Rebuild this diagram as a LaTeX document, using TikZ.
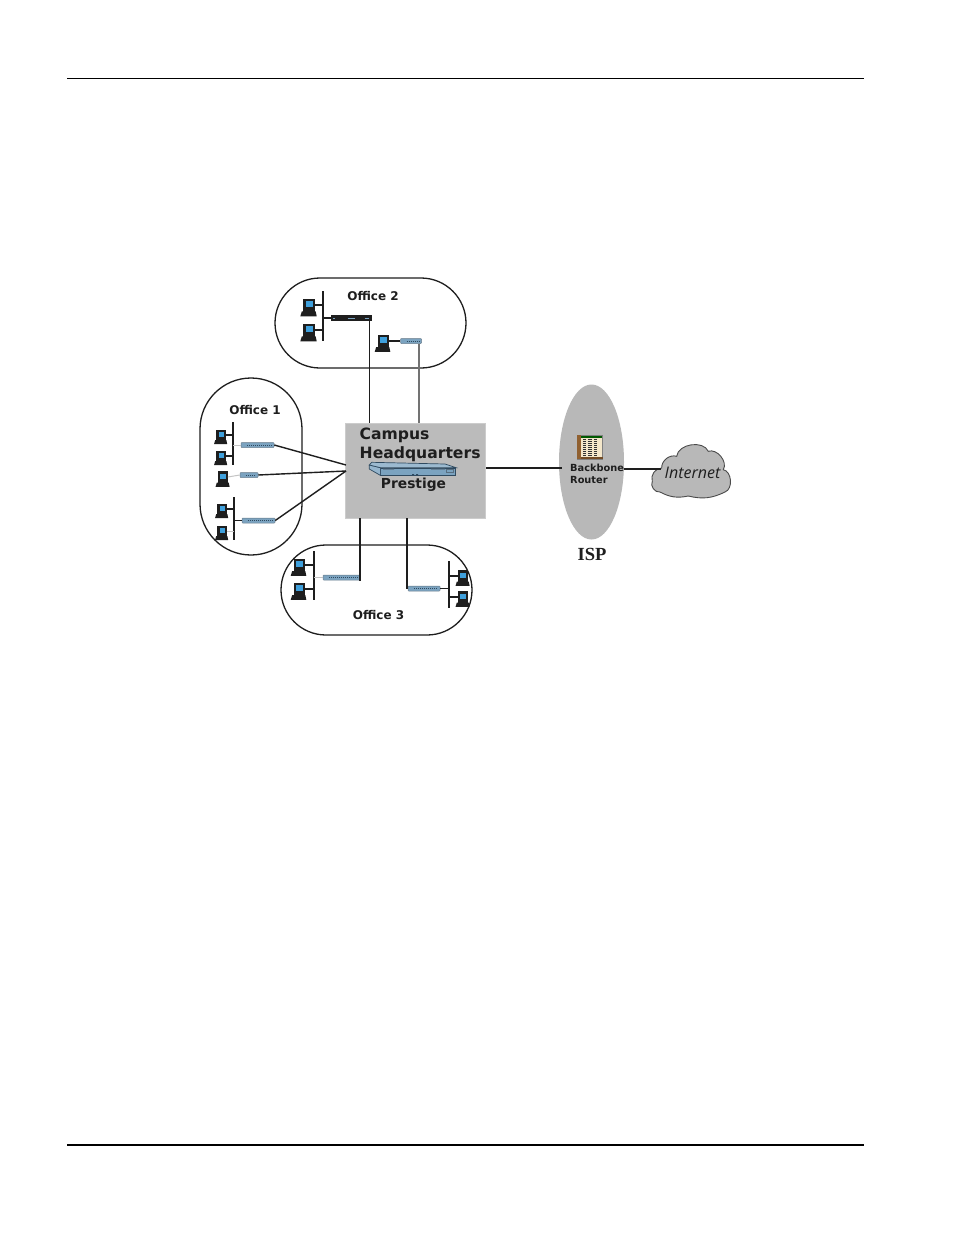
\documentclass[tikz,border=0pt]{standalone}
\usepackage{fontspec}
\setmainfont{DejaVu Sans}
\newfontfamily\isofont{Liberation Serif}
\newfontfamily\netfont{Open Sans}
\usetikzlibrary{shapes.geometric,calc}
\definecolor{panel}{HTML}{BBBBBB}
\definecolor{isp}{HTML}{B8B8B8}
\definecolor{hubblue}{HTML}{7BA3C0}
\definecolor{hubdark}{HTML}{2F4A60}
\definecolor{screen}{HTML}{3FA0DC}
\definecolor{ink}{HTML}{1E1E1E}
\definecolor{stub}{HTML}{C4C4C4}
\tikzset{
  office/.style={draw=ink,line width=1.3pt,fill=white},
  wire/.style={draw=ink,line width=1.4pt},
  greywire/.style={draw=black!55,line width=2pt},
  lightwire/.style={draw=stub,line width=1pt},
  busbar/.style={draw=ink,line width=1.4pt},
  rule/.style={draw=black,line width=1pt},
  label/.style={font=\bfseries\fontsize{12}{14}\selectfont,text=ink,inner sep=0pt},
  hq/.style={font=\bfseries\fontsize{15.6}{18}\selectfont,text=ink,inner sep=0pt},
  hubbox/.style={rectangle,fill=hubblue,draw=hubdark!70,line width=.5pt,inner sep=0pt,rounded corners=.8pt,
    path picture={
      \fill[hubdark!80] (path picture bounding box.north west) rectangle
        ($(path picture bounding box.north east)+(0,-1)$);
      \draw[hubdark,line width=.7pt,dash pattern=on 1pt off 1pt]
        ($(path picture bounding box.west)+(6,.3)$) -- ($(path picture bounding box.east)+(-2,.3)$);}},
  darkhub/.style={rectangle,fill=ink,draw=ink,line width=.5pt,inner sep=0pt,
    path picture={
      \draw[hubblue,line width=.8pt] ($(path picture bounding box.west)+(1.5,.3)$) -- +(2,0);
      \draw[hubblue,line width=.7pt] ($(path picture bounding box.center)+(-4,.2)$) -- +(7,0);
      \draw[hubblue,line width=.7pt] ($(path picture bounding box.east)+(-7,.2)$) -- +(4,0);}},
  monitor/.style={rectangle,fill=ink,draw=ink,line width=.4pt,inner sep=0pt},
}
% A workstation: dark monitor with a blue screen on a flat dark desktop base
\newcommand{\workstation}[4]{%
  \node[monitor,minimum width=#4*11pt,minimum height=#4*12.5pt] (#1) at (#2,#3) {};
  \fill[screen] ($(#1.center)+(-#4*3,-#4*3.8)$) rectangle ($(#1.center)+(#4*4,#4*2.4)$);
  \fill[ink] ($(#1.south west)+(-#4*1.5,0)$) -- ($(#1.south east)+(#4*1,0)$)
    -- ($(#1.south east)+(#4*2,#4*5)$) -- ($(#1.south west)+(-#4*3,#4*5)$) -- cycle;
}
\begin{document}
\begin{tikzpicture}[x=1pt,y=-1pt]
\useasboundingbox (0,0) rectangle (954,1235);
\fill[white] (0,0) rectangle (954,1235);

% page rules
\coordinate (headL) at (67,78.5);
\coordinate (headR) at (864,78.5);
\coordinate (footL) at (67,1145);
\coordinate (footR) at (864,1145);
\draw[rule] (headL) -- (headR);
\draw[rule,line width=2pt] (footL) -- (footR);

% office outlines
\draw[office,rounded corners=45pt] (275,278) rectangle (466,368);
\draw[office,rounded corners=51pt] (200,378) rectangle (302,555);
\draw[office,rounded corners=45pt] (281,545) rectangle (472,635);

% headquarters panel and ISP ellipse
\node[rectangle,fill=panel,draw=black!20,line width=.4pt,minimum width=140.5pt,minimum height=95pt,inner sep=0pt] (hq) at (415.3,470.5) {};
\node[ellipse,fill=isp,minimum width=65pt,minimum height=155pt,inner sep=0pt] (ispcell) at (591.5,462) {};

% Office 2 equipment
\workstation{a1}{309}{305}{1}
\workstation{a2}{309}{330}{1}
\workstation{a3}{383}{341}{.95}
\coordinate (busAt) at (323,291);
\coordinate (busAb) at (323,341);
\node[darkhub,minimum width=40pt,minimum height=5pt] (hubA) at (351.5,318) {};
\node[hubbox,minimum width=21pt,minimum height=5pt] (hubB) at (411,341) {};
\draw[busbar] (busAt) -- (busAb);
\draw[wire] (a1.east) -- (a1.east -| busAt);
\draw[wire] (a2.east) -- (a2.east -| busAt);
\draw[wire] (hubA.west -| busAt) -- (hubA.west);
\draw[wire] (a3.east) -- (hubB.west);

% Office 1 equipment
\workstation{b1}{221}{435}{.8}
\workstation{b2}{221}{456}{.8}
\workstation{b3}{223}{477}{.85}
\workstation{b4}{222}{509}{.8}
\workstation{b5}{222}{531}{.8}
\coordinate (busBt) at (233,422);
\coordinate (busBb) at (233,465);
\coordinate (busCt) at (234,497);
\coordinate (busCb) at (234,540);
\node[hubbox,minimum width=33pt,minimum height=5pt] (hubC) at (257.5,445) {};
\node[hubbox,minimum width=18pt,minimum height=5pt] (hubD) at (249,475) {};
\node[hubbox,minimum width=33pt,minimum height=5pt] (hubE) at (258.5,520.5) {};
\draw[busbar] (busBt) -- (busBb);
\draw[busbar] (busCt) -- (busCb);
\draw[wire] (b1.east) -- (b1.east -| busBt);
\draw[wire] (b2.east) -- (b2.east -| busBt);
\draw[wire] (b4.east) -- (b4.east -| busCt);
\draw[lightwire] (b5.east) -- (b5.east -| busCt);
\draw[lightwire] (hubC.west -| busBt) -- (hubC.west);
\draw[lightwire] (b3.east) -- (hubD.west);
\draw[wire] (hubE.west -| busCt) -- (hubE.west);

% Office 3 equipment
\workstation{c1}{299}{565}{.95}
\workstation{c2}{299}{589}{.95}
\workstation{c3}{463}{576}{.85}
\workstation{c4}{463}{597}{.85}
\coordinate (busDt) at (314,551);
\coordinate (busDb) at (314,600);
\coordinate (busEt) at (449,561);
\coordinate (busEb) at (449,608);
\node[hubbox,minimum width=37pt,minimum height=5pt] (hubF) at (341.5,577.5) {};
\node[hubbox,minimum width=32pt,minimum height=5pt] (hubG) at (424,588.5) {};
\draw[busbar] (busDt) -- (busDb);
\draw[busbar] (busEt) -- (busEb);
\draw[wire] (c1.west -| busDt) -- (c1.east);
\draw[wire] (c2.west -| busDt) -- (c2.east);
\draw[wire] (c3.west) -- (c3.west -| busEt);
\draw[wire] (c4.west) -- (c4.west -| busEt);
\draw[lightwire] (hubF.west -| busDt) -- (hubF.west);
\draw[wire] (hubG.east) -- (hubG.east -| busEt);

% links from the branch offices to the headquarters panel
\coordinate (hqTopA) at (369.5,423);
\coordinate (hqTopB) at (419,423);
\coordinate (hqBotA) at (360,518);
\coordinate (hqBotB) at (407,518);
\coordinate (hqPortA) at (346,465);
\coordinate (hqPortB) at (346,471);
\draw[wire] (hubA.south -| hqTopA) -- (hqTopA);
\draw[greywire] (hubB.south -| hqTopB) -- (hqTopB);
\draw[wire] (hubC.east) -- (hqPortA);
\draw[wire] (hubD.east) -- (hqPortB);
\draw[wire] (hubE.east) -- (hqPortB);
\draw[wire] (hqBotA) -- (hqBotA |- hubF.south) -- (hubF.south east);
\draw[wire] (hqBotB) -- (hqBotB |- hubG.west) -- (hubG.west);

% Prestige device: front face, slanted top and left side
\node[rectangle,fill=hubblue,draw=hubdark,line width=.7pt,minimum width=75pt,minimum height=7pt,inner sep=0pt] (prestige) at (418.2,471.5) {};
\draw[fill=hubblue!80!white,draw=hubdark,line width=.7pt] (prestige.north west) -- (369.3,465) -- (369.3,469) -- (prestige.south west) -- cycle;
\draw[fill=hubblue!75!white,draw=hubdark,line width=.7pt] (369.3,465) -- (371.7,462.3) -- (445,464) -- (prestige.north east) -- (prestige.north west) -- cycle;
\fill[hubdark] (412,474) rectangle (414,475) (416,474) rectangle (418,475);
\fill[hubdark!80] (383,468.7) rectangle (394,469.7) (431,468.7) rectangle (445,469.7);
\draw[hubdark!80,line width=.5pt] (446,469) rectangle (453,472.5);

\node[hq,anchor=west] (campus) at (359.5,435) {Campus};
\node[hq,anchor=west] (hqtext) at (359.5,454) {Headquarters};
\node[hq,font=\bfseries\fontsize{13.8}{16}\selectfont] (prestigetext) at (413.5,485) {Prestige};

% office captions
\node[label] (office2) at (373,296.5) {Office 2};
\node[label] (office1) at (255,410.5) {Office 1};
\node[label] (office3) at (378.5,615.5) {Office 3};

% ISP backbone router: book-like chassis with three card columns
\node[rectangle,fill=yellow!25!brown!25!white,draw=black!50,line width=.4pt,minimum width=25pt,minimum height=24pt,inner sep=0pt] (router) at (590,447) {};
\fill[brown!75!black] (router.north west) rectangle ($(router.south west)+(3.5,0)$);
\fill[brown!60!black] ($(router.south west)+(3.5,-2.5)$) rectangle (router.south east);
\fill[green!35!black] ($(router.north west)+(3.5,1)$) rectangle ($(router.north east)+(-1,2.8)$);
\foreach \sx in {7,12.5,18}{
  \draw[black!80,line width=3.4pt,dash pattern=on 1.3pt off .7pt] ($(router.north west)+(\sx,4)$) -- ($(router.south west)+(\sx,-3)$);
}
\node[label,font=\bfseries\fontsize{9.8}{12}\selectfont,anchor=west,align=left] (bbtext) at (570,474) {Backbone\\Router};
\node[inner sep=0pt,font=\isofont\bfseries\fontsize{18.5}{20}\selectfont,text=ink] (isptext) at (592,554) {ISP};

% internet cloud
\draw[draw=ink!80,fill=isp,line width=.9pt]
  (652.3,481.3) to[bend left=55] (661.7,468) to[bend left=55] (676.7,456.3)
  to[bend left=75] (708.3,451.3) to[bend left=70] (723.3,469.7)
  to[bend left=75] (725,492) to[bend left=20] (688.3,496)
  to[bend left=20] (660,492) to[bend left=65] cycle;
\node[inner sep=0pt,font=\netfont\itshape\fontsize{16}{18}\selectfont,text=ink] (nettext) at (692.5,473) {Internet};

% uplinks around the ISP
\coordinate (hqEast) at (486,468);
\coordinate (ispWest) at (562,468);
\coordinate (ispEast) at (624,469);
\coordinate (netWest) at (661,469);
\draw[wire] (hqEast) -- (ispWest);
\draw[wire] (ispEast) -- (netWest);
\end{tikzpicture}
\end{document}
